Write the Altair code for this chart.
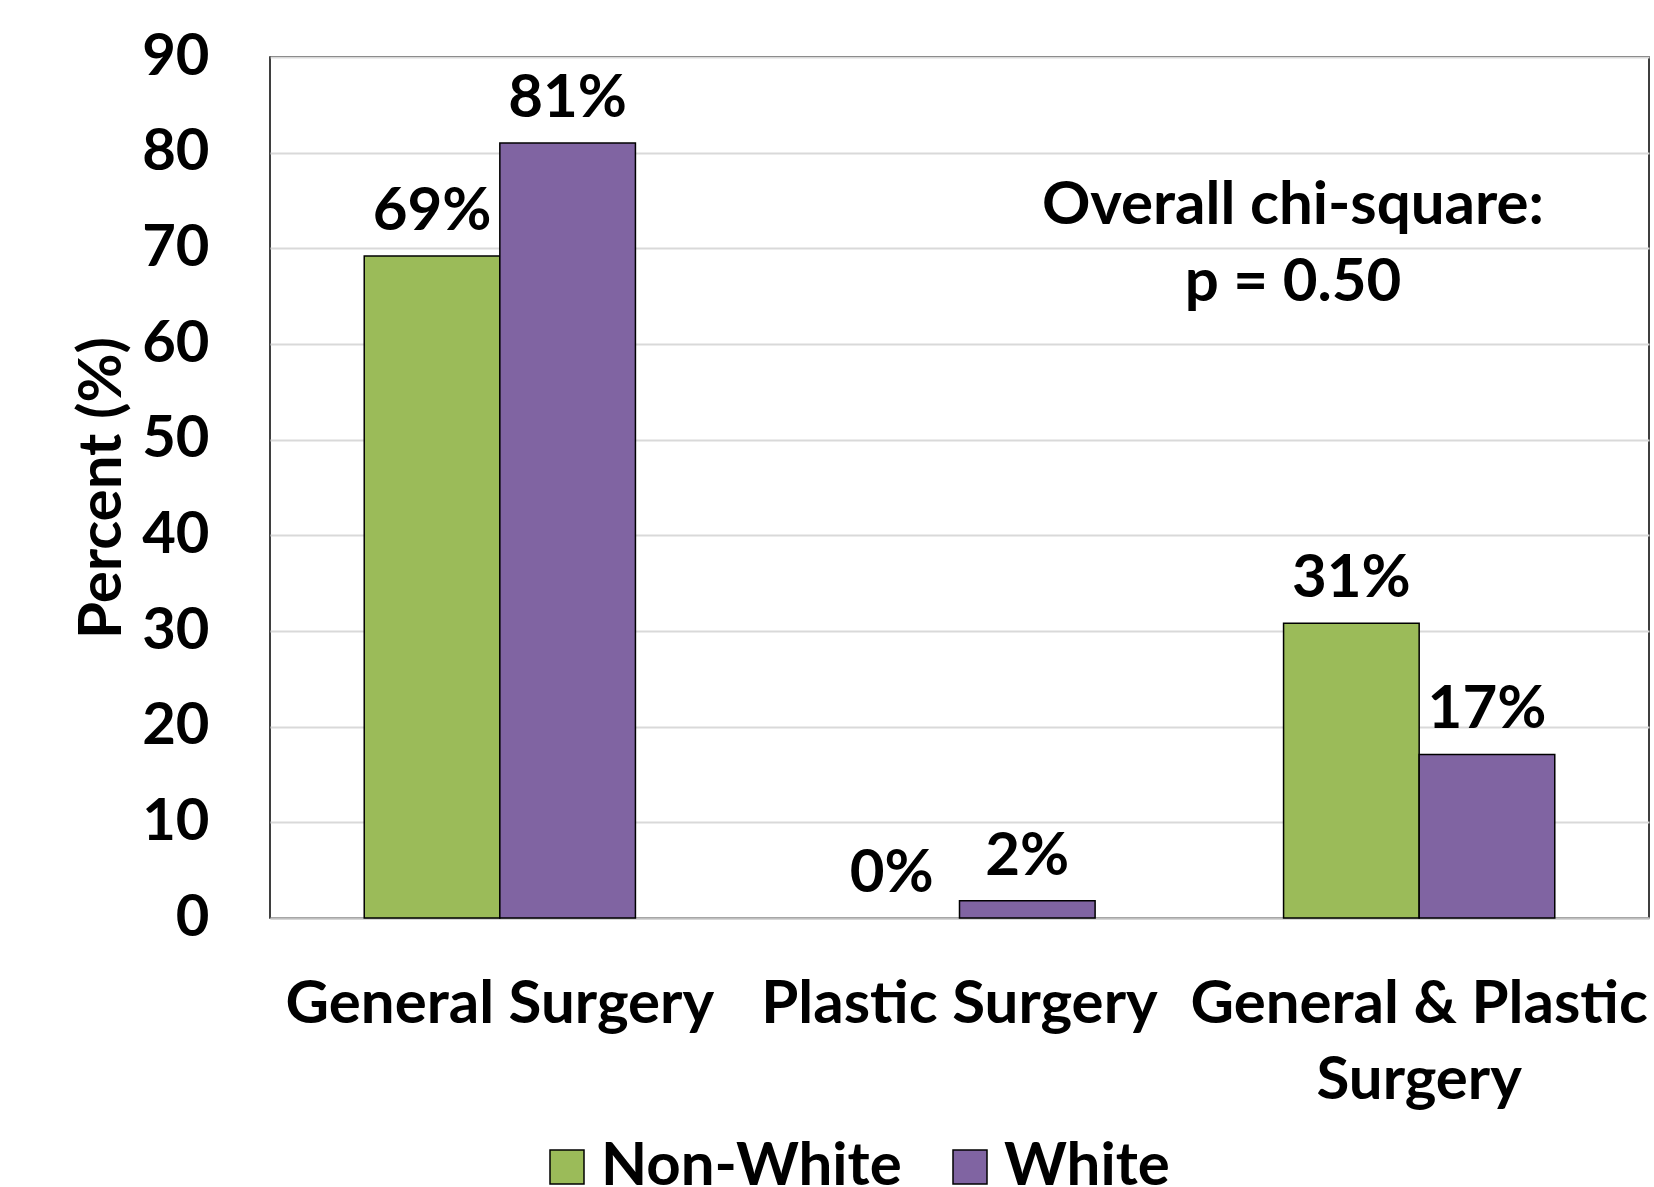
import altair as alt
import pandas as pd

# ---- data ----
categories = ["General Surgery", "Plastic Surgery", "General & Plastic Surgery"]
groups = ["Non-White", "White"]
non_white = [69.2, 0.0, 30.8]
white = [81.0, 1.8, 17.1]
labels_non_white = ["69%", "0%", "31%"]
labels_white = ["81%", "2%", "17%"]
y_ticks = [0, 10, 20, 30, 40, 50, 60, 70, 80, 90]
colors = ["#9BBB59", "#8064A2"]
annotation_lines = ["Overall chi-square:", "p = 0.50"]
annotation_y = [74.4, 66.4]

FONT = "Lato"

rows = []
for i, c in enumerate(categories):
    rows.append({"category": c, "group": groups[0], "value": non_white[i], "label": labels_non_white[i]})
    rows.append({"category": c, "group": groups[1], "value": white[i], "label": labels_white[i]})
df = pd.DataFrame(rows)
ann = pd.DataFrame({"text": annotation_lines, "y": annotation_y})

x_enc = alt.X(
    "category:N",
    sort=categories,
    scale=alt.Scale(domain=categories, paddingInner=0.41, paddingOuter=0.205),
    axis=alt.Axis(
        title=None,
        labelAngle=0,
        labelFont=FONT,
        labelFontWeight="bold",
        labelFontSize=60,
        labelColor="black",
        labelLimit=1000,
        labelOverlap=False,
        labelBaseline="top",
        labelPadding=57,
        labelLineHeight=76,
        labelExpr="datum.label == 'General & Plastic Surgery' ? ['General & Plastic', 'Surgery'] : datum.label",
        ticks=False,
        domainColor="#BFBFBF",
        domainWidth=2,
        grid=False,
    ),
)
y_enc = alt.Y(
    "value:Q",
    scale=alt.Scale(domain=[0, 90], nice=False),
    axis=alt.Axis(
        values=y_ticks,
        title="Percent (%)",
        titleFont=FONT,
        titleFontWeight="bold",
        titleFontSize=60,
        titleColor="black",
        titleAngle=270,
        titleAlign="center",
        titleBaseline="middle",
        titleX=-168,
        titleY=430.5,
        labelFont=FONT,
        labelFontWeight="bold",
        labelFontSize=58,
        labelColor="black",
        labelPadding=61,
        ticks=False,
        domain=False,
        gridColor="#D9D9D9",
        gridWidth=2,
    ),
)
xoff = alt.XOffset("group:N", scale=alt.Scale(domain=groups))

bars = alt.Chart(df).transform_filter("datum.value > 0").mark_bar(stroke="black", strokeWidth=1.5).encode(
    x=x_enc,
    xOffset=xoff,
    y=y_enc,
    color=alt.Color(
        "group:N",
        scale=alt.Scale(domain=groups, range=colors),
        legend=alt.Legend(
            orient="none",
            legendX=267,
            legendY=1080,
            direction="horizontal",
            title=None,
            symbolType="square",
            symbolSize=1156,
            symbolStrokeColor="black",
            symbolStrokeWidth=1.5,
            symbolOpacity=1,
            labelFont=FONT,
            labelFontWeight="bold",
            labelFontSize=60,
            labelColor="black",
            labelOffset=4,
            columnPadding=38,
            labelLimit=1000,
        ),
    ),
)

texts = alt.Chart(df).mark_text(
    dy=-44, baseline="middle", align="center", font=FONT, fontWeight="bold", fontSize=60, color="black"
).encode(
    x=alt.X("category:N", sort=categories),
    xOffset=xoff,
    y=alt.Y("value:Q"),
    text="label:N",
)

annot = alt.Chart(ann).mark_text(
    baseline="middle", align="center", font=FONT, fontWeight="bold", fontSize=60, color="black"
).encode(
    x=alt.value(1023),
    y=alt.Y("y:Q"),
    text="text:N",
)

chart = (
    alt.layer(bars, texts, annot)
    .properties(
        width=1379,
        height=861,
        autosize=alt.AutoSizeParams(type="none"),
        padding={"left": 270, "top": 57, "right": 5, "bottom": 269},
        background="white",
    )
    .configure_view(stroke="black", strokeWidth=1.5)
)

chart.save("out.html", embed_options={"renderer": "svg", "actions": False})
